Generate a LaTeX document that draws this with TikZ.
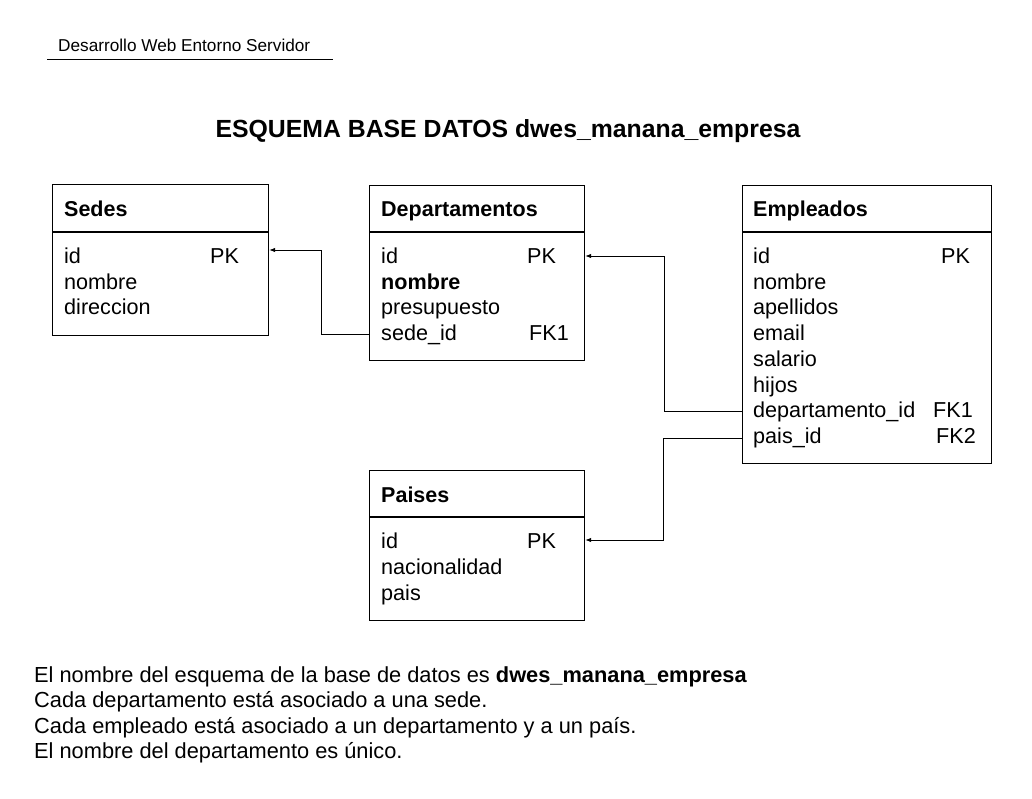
\documentclass[tikz,border=0pt]{standalone}
\usepackage{fontspec}
\setmainfont{Liberation Sans}
\usetikzlibrary{arrows.meta}

\begin{document}
\begin{tikzpicture}[x=1pt, y=-1pt,
    tabla/.style={draw, line width=1.2pt, anchor=north west, inner sep=0pt},
    titulo/.style={anchor=base west, inner sep=0pt, font=\fontsize{21.5}{25}\selectfont\bfseries},
    campo/.style={anchor=base west, inner sep=0pt, font=\fontsize{21.6}{25}\selectfont},
    enlace/.style={line width=0.9pt, -{Latex[length=6pt,width=4.5pt]}},
    nota/.style={anchor=base west, inner sep=0pt, font=\fontsize{21.8}{25}\selectfont}]
    \useasboundingbox[fill=white] (0,0) rectangle (1032,798);

    % Cabecera
    \node[anchor=base west, inner sep=0pt, font=\fontsize{17.2}{20}\selectfont] (cabecera) at (58,51) {Desarrollo Web Entorno Servidor};
    \draw[line width=1pt] (47,59.5) -- (333,59.5);
    \node[inner sep=0pt, font=\fontsize{24.8}{28}\selectfont\bfseries] (esquema) at (508,131) {ESQUEMA BASE DATOS dwes\_manana\_empresa};

    % Draw tables
    \node[tabla, minimum width=216pt, minimum height=151pt] (sedes) at (52,184) {};
    \node[tabla, minimum width=215pt, minimum height=175pt] (departamentos) at (369,185) {};
    \node[tabla, minimum width=249pt, minimum height=278pt] (empleados) at (742,185) {};
    \node[tabla, minimum width=215pt, minimum height=150pt] (paises) at (369,470) {};
    \draw[line width=1.2pt] ([yshift=-48pt]sedes.north west) -- ([yshift=-48pt]sedes.north east);
    \draw[line width=1.2pt] ([yshift=-47pt]departamentos.north west) -- ([yshift=-47pt]departamentos.north east);
    \draw[line width=1.2pt] ([yshift=-47pt]empleados.north west) -- ([yshift=-47pt]empleados.north east);
    \draw[line width=1.2pt] ([yshift=-47pt]paises.north west) -- ([yshift=-47pt]paises.north east);

    % Sedes
    \node[titulo] (sedes-titulo) at (64,216) {Sedes};
    \node[campo] (sedes-id) at (64,263.5) {id};
    \node[campo] (sedes-nombre) at (64,289.2) {nombre};
    \node[campo] (sedes-direccion) at (64,314.9) {direccion};
    \node[campo] (sedes-pk) at (210,263.5) {PK};

    % Departamentos
    \node[titulo] (dep-titulo) at (381,216) {Departamentos};
    \node[campo] (dep-id) at (381,263.5) {id};
    \node[campo, font=\fontsize{21.6}{25}\selectfont\bfseries] (dep-nombre) at (381,289.2) {nombre};
    \node[campo] (dep-presupuesto) at (381,314.9) {presupuesto};
    \node[campo] (dep-sede) at (381,340.6) {sede\_id};
    \node[campo] (dep-pk) at (527,263.5) {PK};
    \node[campo] (dep-fk) at (529,340.6) {FK1};

    % Empleados
    \node[titulo] (emp-titulo) at (753,216) {Empleados};
    \node[campo] (emp-id) at (753,263.5) {id};
    \node[campo] (emp-nombre) at (753,289.2) {nombre};
    \node[campo] (emp-apellidos) at (753,314.9) {apellidos};
    \node[campo] (emp-email) at (753,340.6) {email};
    \node[campo] (emp-salario) at (753,366.3) {salario};
    \node[campo] (emp-hijos) at (753,392) {hijos};
    \node[campo] (emp-depto) at (753,417.7) {departamento\_id};
    \node[campo] (emp-pais) at (753,443.4) {pais\_id};
    \node[campo] (emp-pk) at (941,263.5) {PK};
    \node[campo] (emp-fk1) at (933,417.7) {FK1};
    \node[campo] (emp-fk2) at (936,443.4) {FK2};

    % Paises
    \node[titulo] (pai-titulo) at (381,502) {Paises};
    \node[campo] (pai-id) at (381,548.7) {id};
    \node[campo] (pai-nacionalidad) at (381,574.4) {nacionalidad};
    \node[campo] (pai-pais) at (381,600.1) {pais};
    \node[campo] (pai-pk) at (527,548.7) {PK};

    % Draw connections
    \draw[enlace] (departamentos.west |- 0,334) -- (321,334) |- (sedes.east |- 0,250);
    \draw[enlace] (empleados.west |- 0,411) -- (664,411) |- (departamentos.east |- 0,256);
    \draw[enlace] (empleados.west |- 0,438) -- (663,438) |- (paises.east |- 0,540);

    % Notas
    \node[nota] (nota1) at (34,682) {El nombre del esquema de la base de datos es \textbf{dwes\_manana\_empresa}};
    \node[nota] (nota2) at (34,707.5) {Cada departamento está asociado a una sede.};
    \node[nota] (nota3) at (34,733) {Cada empleado está asociado a un departamento y a un país.};
    \node[nota] (nota4) at (34,758.5) {El nombre del departamento es único.};
\end{tikzpicture}
\end{document}
